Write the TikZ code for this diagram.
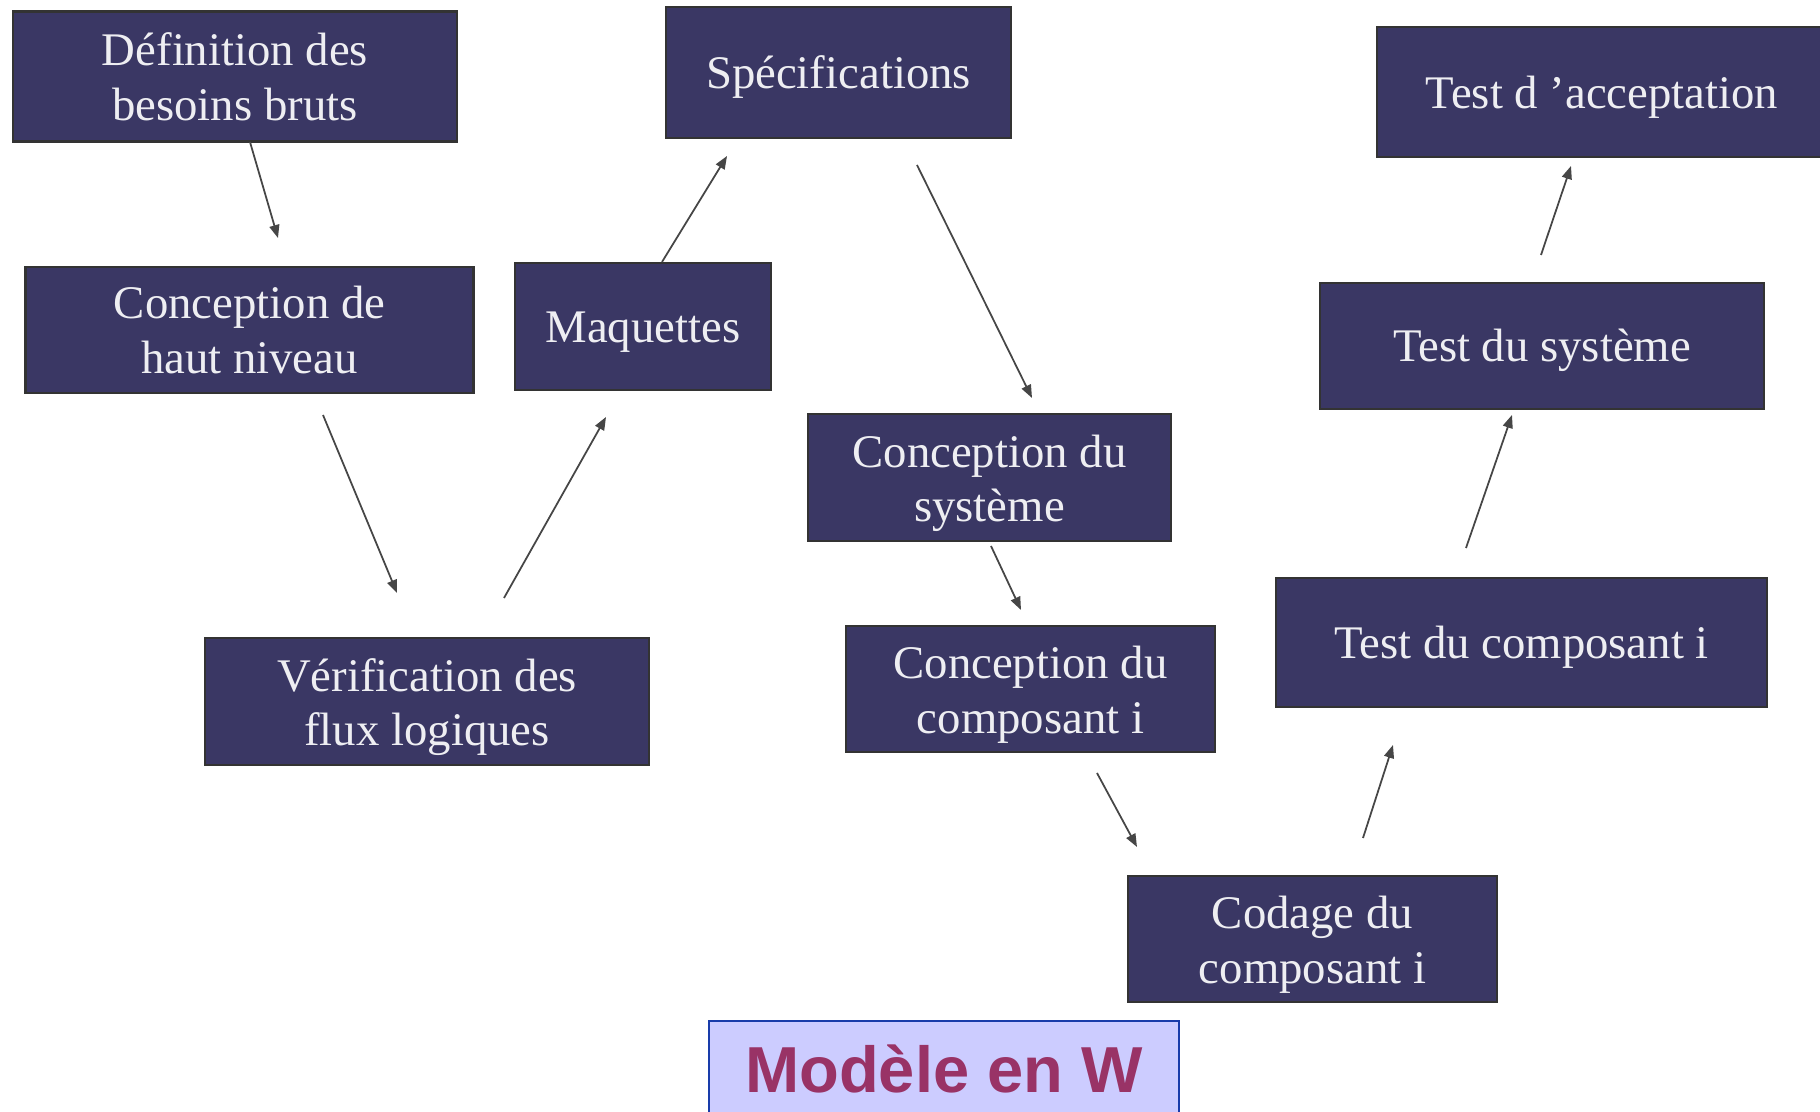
\documentclass[tikz,border=0pt]{standalone}
\usepackage{fontspec}
\setmainfont{Liberation Serif}
\newfontfamily\titrefont{Liberation Sans}
\usetikzlibrary{arrows.meta}
\definecolor{fondboite}{RGB}{58,55,100}
\definecolor{bordboite}{RGB}{51,51,51}
\definecolor{textboite}{RGB}{238,238,242}
\definecolor{gristrait}{RGB}{70,70,70}
\definecolor{fondtitre}{RGB}{204,204,255}
\definecolor{bordtitre}{RGB}{25,60,170}
\definecolor{texttitre}{RGB}{153,51,102}
\tikzset{
  boite/.style={draw=bordboite,line width=0.7pt,fill=fondboite,text=textboite,
    align=center,inner sep=0pt,font=\fontsize{13.3}{15.5}\selectfont,
    execute at begin node={\rule{0pt}{12pt}}},
  deuxlignes/.style={execute at begin node={\rule{0pt}{28pt}}},
  fleche/.style={draw=gristrait,line width=0.5pt,-{Triangle[length=0.13cm,width=0.10cm]}},
  titre/.style={draw=bordtitre,line width=0.8pt,fill=fondtitre,text=texttitre,
    inner sep=0pt,text depth=0pt,font=\titrefont\bfseries\fontsize{18.5}{22}\selectfont}
}
\begin{document}
\begin{tikzpicture}
        \clip (0,0) rectangle (18.2,-11.12);
        \fill[white] (0,0) rectangle (18.2,-11.12);

        \node[boite,minimum width=4.44cm,minimum height=1.30cm] (def) at (2.35,-0.766) {Définition des\\besoins bruts};
        \node[boite,minimum width=3.45cm,minimum height=1.31cm] (spec) at (8.385,-0.725) {Spécifications};
        \node[boite,minimum width=4.50cm,minimum height=1.30cm] (accept) at (16.02,-0.92) {Test d ’acceptation};
        \node[boite,minimum width=4.48cm,minimum height=1.26cm] (hautniv) at (2.495,-3.30) {Conception de\\haut niveau};
        \node[boite,minimum width=2.56cm,minimum height=1.27cm] (maq) at (6.43,-3.265) {Maquettes};
        \node[boite,minimum width=4.44cm,minimum height=1.26cm] (testsys) at (15.42,-3.458) {Test du système};
        \node[boite,deuxlignes,minimum width=3.63cm,minimum height=1.27cm] (concsys) at (9.895,-4.775) {Conception du\\système};
        \node[boite,deuxlignes,minimum width=4.44cm,minimum height=1.27cm] (verif) at (4.27,-7.015) {Vérification des\\flux logiques};
        \node[boite,deuxlignes,minimum width=3.69cm,minimum height=1.26cm] (conccomp) at (10.305,-6.89) {Conception du\\composant i};
        \node[boite,minimum width=4.91cm,minimum height=1.29cm] (testcomp) at (15.215,-6.425) {Test du composant i};
        \node[boite,deuxlignes,minimum width=3.69cm,minimum height=1.26cm] (codage) at (13.125,-9.39) {Codage du\\composant i};

        \node[titre,minimum width=4.70cm,minimum height=0.96cm] (modele) at (9.44,-10.69) {Modèle en W};

        \coordinate (a1) at (2.50,-1.42);   \coordinate (a2) at (2.78,-2.38);
        \coordinate (b1) at (6.62,-2.62);   \coordinate (b2) at (7.27,-1.56);
        \coordinate (c1) at (9.17,-1.65);   \coordinate (c2) at (10.32,-3.98);
        \coordinate (d1) at (15.41,-2.55);  \coordinate (d2) at (15.71,-1.66);
        \coordinate (e1) at (3.23,-4.15);   \coordinate (e2) at (3.97,-5.93);
        \coordinate (f1) at (5.04,-5.98);   \coordinate (f2) at (6.06,-4.17);
        \coordinate (g1) at (9.91,-5.46);   \coordinate (g2) at (10.21,-6.10);
        \coordinate (h1) at (14.66,-5.48);  \coordinate (h2) at (15.12,-4.15);
        \coordinate (i1) at (10.97,-7.73);  \coordinate (i2) at (11.37,-8.47);
        \coordinate (j1) at (13.63,-8.38);  \coordinate (j2) at (13.93,-7.45);

        \path[fleche] (a1) -- (a2);
        \path[fleche] (b1) -- (b2);
        \path[fleche] (c1) -- (c2);
        \path[fleche] (d1) -- (d2);
        \path[fleche] (e1) -- (e2);
        \path[fleche] (f1) -- (f2);
        \path[fleche] (g1) -- (g2);
        \path[fleche] (h1) -- (h2);
        \path[fleche] (i1) -- (i2);
        \path[fleche] (j1) -- (j2);
\end{tikzpicture}
\end{document}
